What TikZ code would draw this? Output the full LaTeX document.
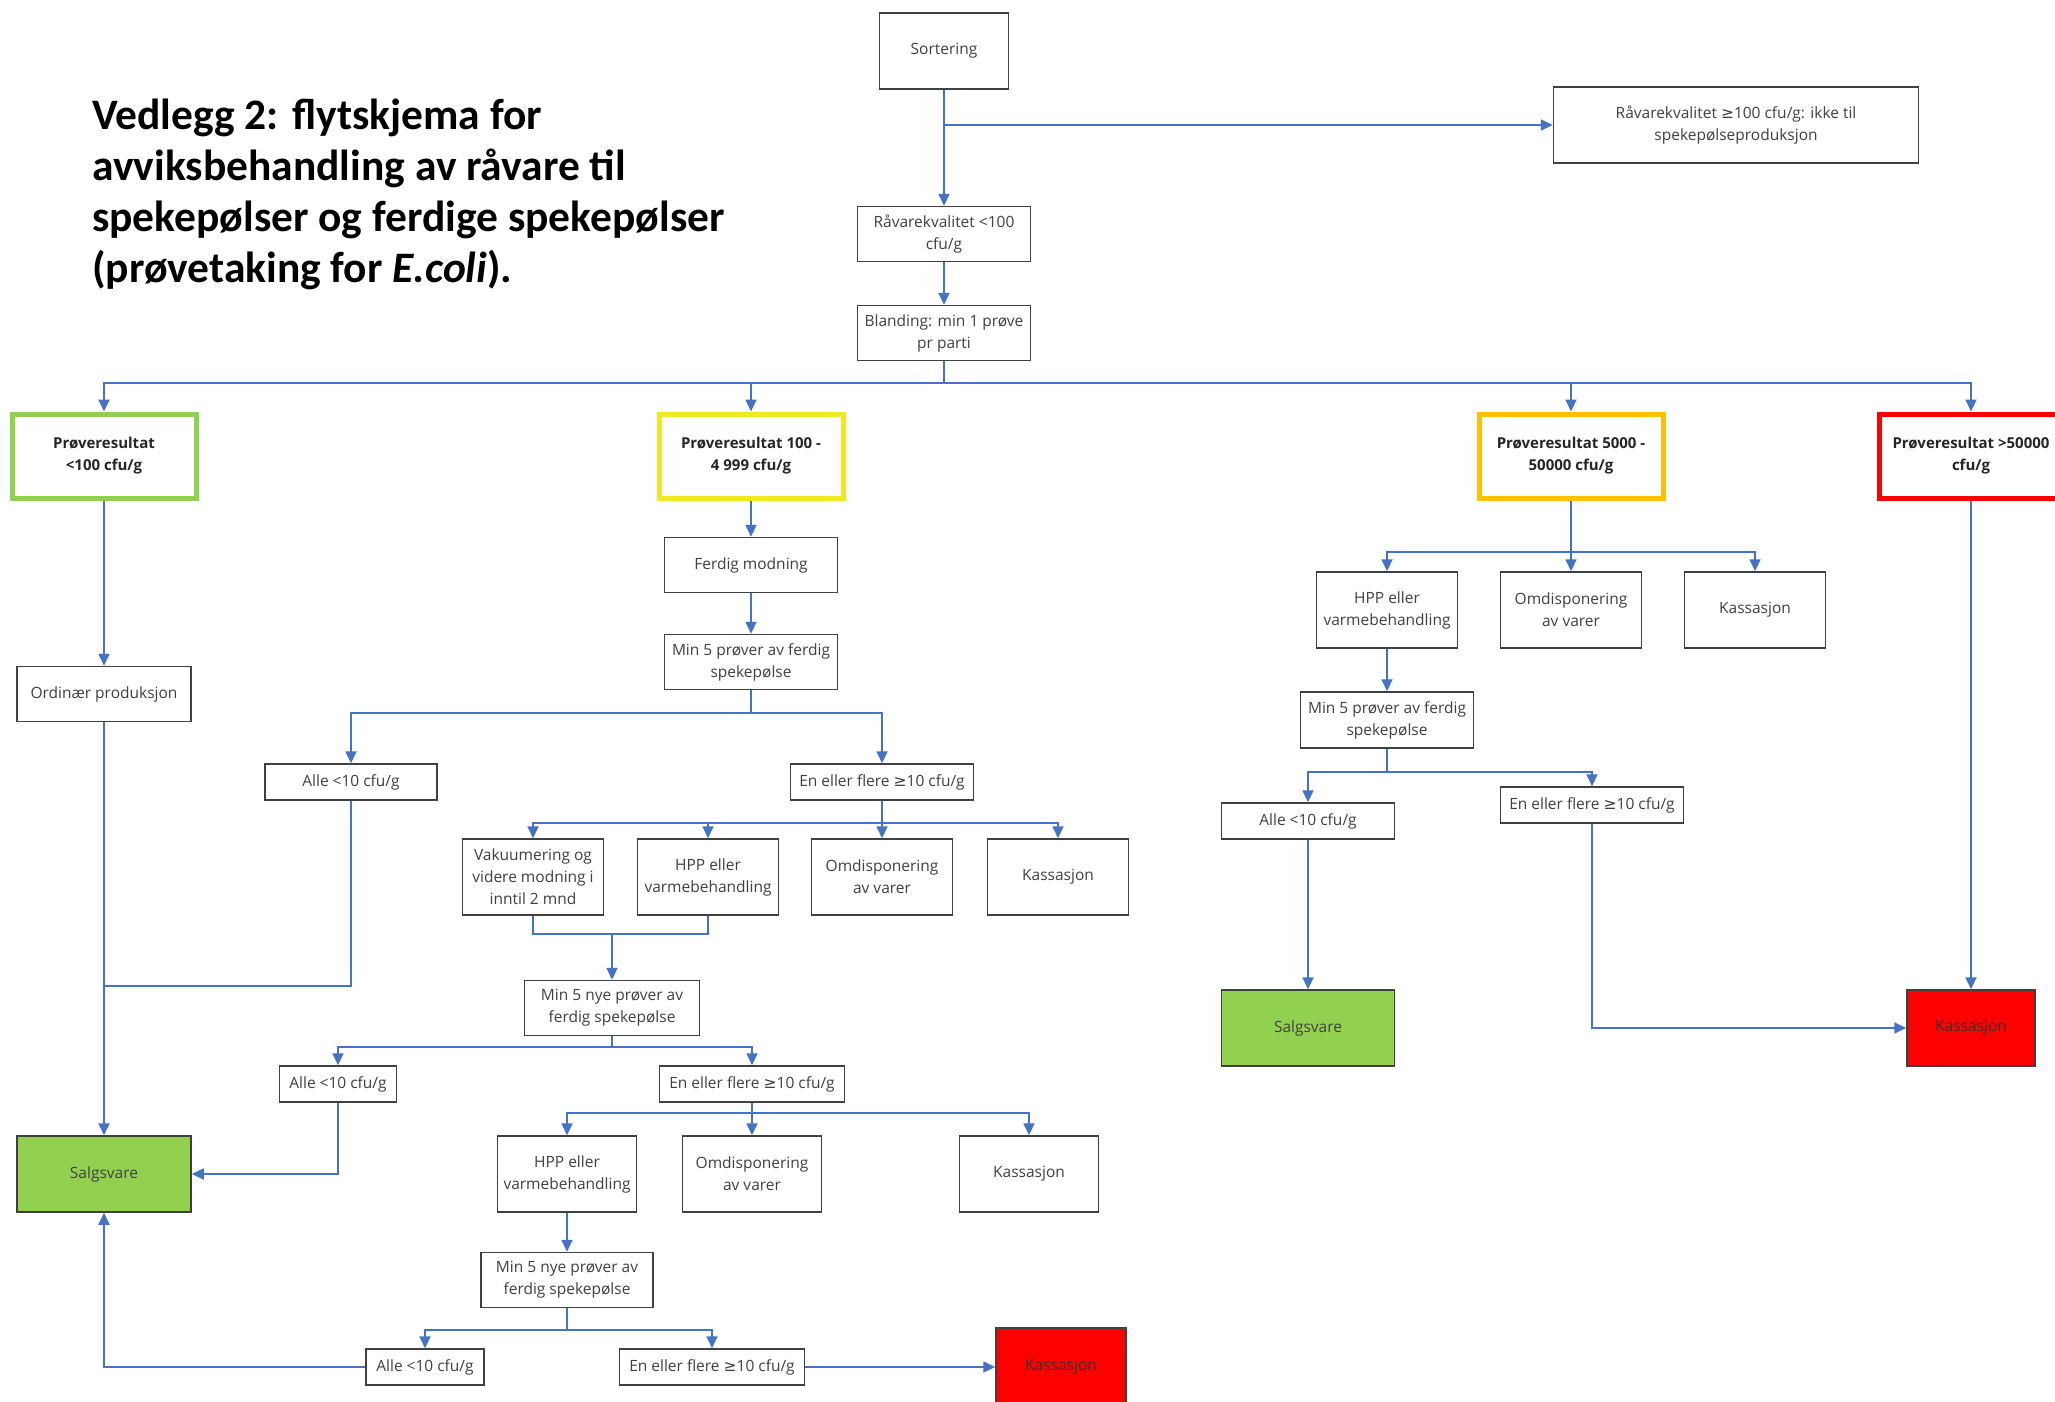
\documentclass[tikz,border=0pt]{standalone}
\usepackage{fontspec}
\setmainfont{Open Sans}
\newfontfamily\titlefont{Carlito}
\newfontfamily\symbfont{DejaVu Sans}
\newcommand\geqsign{{\symbfont ≥}}
\usetikzlibrary{arrows.meta,positioning}
\definecolor{flowblue}{RGB}{68,114,196}
\definecolor{boxgray}{RGB}{64,64,64}
\definecolor{okgreen}{RGB}{146,208,80}
\definecolor{warnyellow}{RGB}{240,232,35}
\definecolor{warnorange}{RGB}{255,192,0}
\definecolor{badred}{RGB}{255,0,0}

\begin{document}
\begin{tikzpicture}[x=1pt, y=-1pt,
      box/.style={rectangle, draw=boxgray, line width=1.5pt, fill=white,
                  text=boxgray, align=center, minimum width=#1,
                  minimum height=55pt, inner sep=1pt,
                  font=\fontsize{15.5}{22}\selectfont},
      box/.default=173pt,
      short/.style={minimum height=36pt},
      tall/.style={minimum height=76pt},
      res/.style={box=184pt, draw=#1, line width=5pt, minimum height=84pt,
                  text=black!85, font=\fontsize{15}{22}\selectfont\bfseries},
      arr/.style={-{Triangle[length=12pt,width=11pt]}, flowblue, line width=1.8pt},
      link/.style={flowblue, line width=1.8pt},
    ]
    \useasboundingbox (0,0) rectangle (2055,1401);
    \clip (0,0) rectangle (2055,1401);
    \fill[white] (0,0) rectangle (2055,1401);

    \node[anchor=north west, align=left, inner sep=0pt,
          font=\titlefont\bfseries\fontsize{43.5}{51}\selectfont] (title) at (92,99)
      {Vedlegg 2: flytskjema for\\avviksbehandling av råvare til\\spekepølser og ferdige spekepølser\\(prøvetaking for \textit{E.coli}).};

    \node[box=129pt, tall] (sort) at (944,51) {Sortering};
    \node[box=365pt, tall] (bad) at (1736,125)
      {Råvarekvalitet \geqsign100 cfu/g: ikke til\\spekepølseproduksjon};
    \node[box] (raa) at (944,234) {Råvarekvalitet <100\\cfu/g};
    \node[box] (bland) at (944,333) {Blanding: min 1 prøve\\pr parti};

    \node[res=okgreen] (r1) at (104,456) {Prøveresultat\\<100 cfu/g};
    \node[res=warnyellow] (r2) at (751,456) {Prøveresultat 100 -\\4 999 cfu/g};
    \node[res=warnorange] (r3) at (1571,456) {Prøveresultat 5000 -\\50000 cfu/g};
    \node[res=badred] (r4) at (1971,456) {Prøveresultat >50000\\cfu/g};

    \node[box=174pt] (ord) at (104,694) {Ordinær produksjon};
    \node[box=174pt, tall, fill=okgreen] (salg1) at (104,1174) {Salgsvare};

    \node[box] (ferd) at (751,565) {Ferdig modning};
    \node[box] (min5a) at (751,662) {Min 5 prøver av ferdig\\spekepølse};
    \node[box=172pt, short] (alle1) at (351,782) {Alle <10 cfu/g};
    \node[box=183pt, short] (en1) at (882,782) {En eller flere \geqsign10 cfu/g};
    \node[box=141pt, tall] (vak) at (533,877) {Vakuumering og\\videre modning i\\inntil 2 mnd};
    \node[box=141pt, tall] (hpp1) at (708,877) {HPP eller\\varmebehandling};
    \node[box=141pt, tall] (omd1) at (882,877) {Omdisponering\\av varer};
    \node[box=141pt, tall] (kas1) at (1058,877) {Kassasjon};
    \node[box=175pt] (min5b) at (612,1008) {Min 5 nye prøver av\\ferdig spekepølse};
    \node[box=117pt, short] (alle2) at (338,1084) {Alle <10 cfu/g};
    \node[box=185pt, short] (en2) at (752,1084) {En eller flere \geqsign10 cfu/g};
    \node[box=139pt, tall] (hpp2) at (567,1174) {HPP eller\\varmebehandling};
    \node[box=139pt, tall] (omd2) at (752,1174) {Omdisponering\\av varer};
    \node[box=139pt, tall] (kas2) at (1029,1174) {Kassasjon};
    \node[box=172pt] (min5c) at (567,1280) {Min 5 nye prøver av\\ferdig spekepølse};
    \node[box=118pt, short] (alle3) at (425,1367) {Alle <10 cfu/g};
    \node[box=185pt, short] (en3) at (712,1367) {En eller flere \geqsign10 cfu/g};
    \node[box=130pt, minimum height=78pt, fill=badred, text=black!80] (kasR1) at (1061,1367) {Kassasjon};

    \node[box=141pt, tall] (hpp3) at (1387,610) {HPP eller\\varmebehandling};
    \node[box=141pt, tall] (omd3) at (1571,610) {Omdisponering\\av varer};
    \node[box=141pt, tall] (kas3) at (1755,610) {Kassasjon};
    \node[box, minimum height=56pt] (min5d) at (1387,720) {Min 5 prøver av ferdig\\spekepølse};
    \node[box, short] (alle4) at (1308,821) {Alle <10 cfu/g};
    \node[box=183pt, short] (en4) at (1592,805) {En eller flere \geqsign10 cfu/g};
    \node[box, tall, fill=okgreen] (salg2) at (1308,1028) {Salgsvare};
    \node[box=128pt, tall, fill=badred, text=black!80] (kasR2) at (1971,1028) {Kassasjon};

    \coordinate (busA) at (944,383);
    \coordinate (busB) at (751,713);
    \coordinate (busC) at (882,823);
    \coordinate (mrgA) at (612,934);
    \coordinate (busD) at (612,1047);
    \coordinate (busE) at (752,1113);
    \coordinate (busF) at (567,1330);
    \coordinate (busG) at (1571,552);
    \coordinate (busH) at (1387,772);
    \coordinate (joinA) at (104,986);

    \draw[arr] (sort) -- (raa);
    \draw[arr] (sort |- bad) -- (bad);
    \draw[arr] (raa) -- (bland);
    \draw[link] (bland) -- (busA);
    \draw[arr] (busA) -| (r1);
    \draw[arr] (busA) -| (r2);
    \draw[arr] (busA) -| (r3);
    \draw[arr] (busA) -| (r4);

    \draw[arr] (r1) -- (ord);
    \draw[arr] (ord) -- (salg1);
    \draw[link] (alle1) |- (joinA);
    \draw[arr] (alle2) |- (salg1);
    \draw[arr] (alle3) -| (salg1);

    \draw[arr] (r2) -- (ferd);
    \draw[arr] (ferd) -- (min5a);
    \draw[link] (min5a) -- (busB);
    \draw[arr] (busB) -| (alle1);
    \draw[arr] (busB) -| (en1);
    \draw[link] (en1) -- (busC);
    \draw[arr] (busC) -| (vak);
    \draw[arr] (busC) -| (hpp1);
    \draw[arr] (busC) -| (omd1);
    \draw[arr] (busC) -| (kas1);
    \draw[link] (vak) |- (mrgA) -| (hpp1);
    \draw[arr] (mrgA) -- (min5b);
    \draw[link] (min5b) -- (busD);
    \draw[arr] (busD) -| (alle2);
    \draw[arr] (busD) -| (en2);
    \draw[link] (en2) -- (busE);
    \draw[arr] (busE) -| (hpp2);
    \draw[arr] (busE) -| (omd2);
    \draw[arr] (busE) -| (kas2);
    \draw[arr] (hpp2) -- (min5c);
    \draw[link] (min5c) -- (busF);
    \draw[arr] (busF) -| (alle3);
    \draw[arr] (busF) -| (en3);
    \draw[arr] (en3) -- (kasR1);

    \draw[link] (r3) -- (busG);
    \draw[arr] (busG) -| (hpp3);
    \draw[arr] (busG) -| (omd3);
    \draw[arr] (busG) -| (kas3);
    \draw[arr] (hpp3) -- (min5d);
    \draw[link] (min5d) -- (busH);
    \draw[arr] (busH) -| (alle4);
    \draw[arr] (busH) -| (en4);
    \draw[arr] (alle4) -- (salg2);
    \draw[arr] (en4) |- (kasR2);
    \draw[arr] (r4) -- (kasR2);
  \end{tikzpicture}
\end{document}
